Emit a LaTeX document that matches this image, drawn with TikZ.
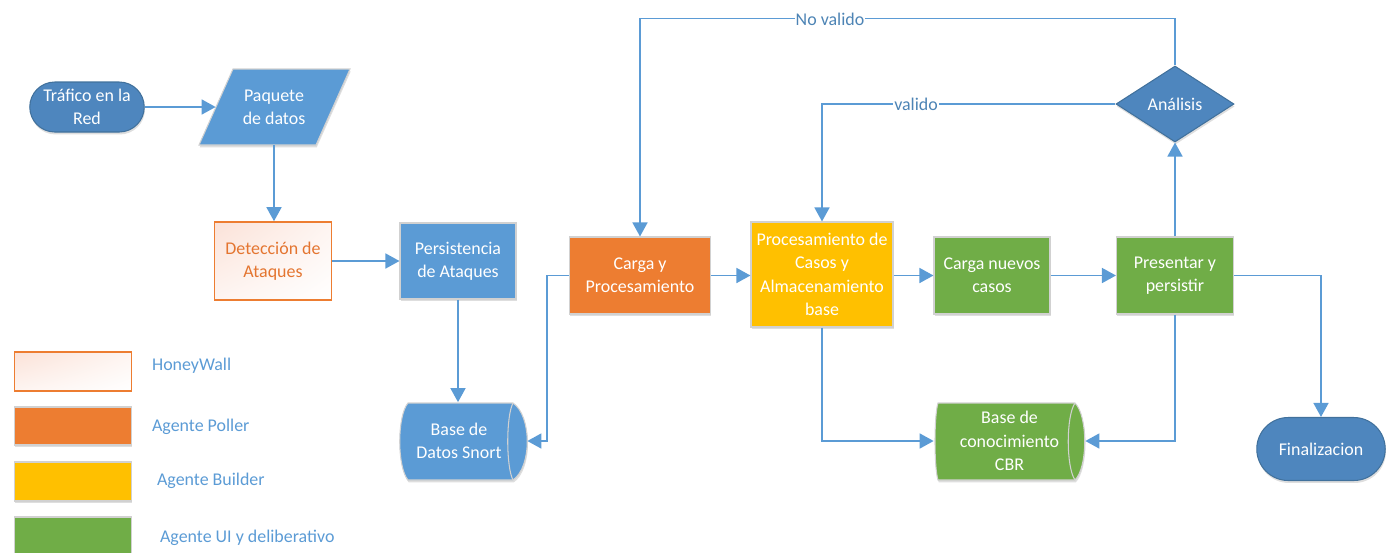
\documentclass[tikz,border=0pt]{standalone}
\usepackage{fontspec}
\setmainfont{Carlito}
\usetikzlibrary{shapes.geometric,shapes.misc,arrows.meta,calc,shadows,shadings}

\definecolor{lineblue}{HTML}{5B9BD5}
\definecolor{boxblue}{HTML}{5B9BD5}
\definecolor{termblue}{HTML}{4E86BE}
\definecolor{termedge}{HTML}{41719C}
\definecolor{poller}{HTML}{ED7D31}
\definecolor{builder}{HTML}{FFC000}
\definecolor{uigreen}{HTML}{70AD47}
\definecolor{hwtext}{HTML}{E47530}
\definecolor{hwtint}{HTML}{FBE2D8}

\begin{document}
\begin{tikzpicture}[x=0.02cm,y=-0.02cm,
  base/.style={font=\fontsize{10.2}{13.3}\selectfont, align=center, inner sep=1pt},
  soft/.style={drop shadow={shadow xshift=0.4pt, shadow yshift=-1.4pt, opacity=0.13, fill=black}},
  box/.style={base, rectangle, draw=black!18, line width=0.6pt, text=white, soft},
  bluebox/.style={box, fill=boxblue},
  pollerbox/.style={box, fill=poller},
  builderbox/.style={box, fill=builder},
  uibox/.style={box, fill=uigreen},
  hwbox/.style={base, rectangle, draw=poller, line width=0.9pt, text=hwtext,
    upper left=hwtint, upper right=hwtint!35, lower left=hwtint!35, lower right=white},
  term/.style={base, rounded rectangle, fill=termblue, draw=termedge, line width=0.6pt, text=white, soft},
  decide/.style={base, diamond, inner sep=0pt, fill=termblue, draw=termedge, line width=0.6pt, text=white, soft},
  holder/.style={base, rectangle, text=white},
  storeshape/.style={draw=black!18, line width=0.6pt, soft},
  arr/.style={draw=lineblue, line width=1.1pt, -{Triangle[length=8pt,width=8.5pt]}},
  edgelbl/.style={base, fill=white, inner sep=0.5pt, text=lineblue!85!black},
  legtxt/.style={base, anchor=west, text=lineblue}
]
\useasboundingbox (0,0) rectangle (1387,552);

% ---- input side ----
\node[term, minimum width=2.36cm, minimum height=1cm] (traf) at (87,107) {Tráfico en la\\Red};

\fill[boxblue, storeshape] (233,69) -- (350,69) -- (316,145) -- (199,145) -- cycle;
\node[holder, minimum width=2.32cm, minimum height=1.52cm] (paq) at (274,107) {Paquete\\de datos};

\node[hwbox, minimum width=2.34cm, minimum height=1.56cm] (det) at (273,261) {Detección de\\Ataques};
\node[bluebox, minimum width=2.32cm, minimum height=1.52cm] (pers) at (458,261) {Persistencia\\de Ataques};

% Snort storage drum (body 400..518, outer bulge reaching 527)
\fill[boxblue, storeshape] (408,403) -- (513,403) .. controls (532,416) and (532,467) .. (513,480)
  -- (408,480) .. controls (397,467) and (397,416) .. (408,403) -- cycle;
\draw[black!18, line width=0.6pt] (513,403) .. controls (506,416) and (506,467) .. (513,480);
\node[holder, minimum width=2.36cm, minimum height=1.54cm] (snort) at (459,441) {Base de\\Datos Snort};

% ---- agents ----
\node[pollerbox, minimum width=2.82cm, minimum height=1.54cm] (carga) at (640,275.5) {Carga y\\Procesamiento};
\node[builderbox, minimum width=2.84cm, minimum height=2.1cm] (proc) at (822,274.5) {Procesamiento de\\Casos y\\Almacenamiento\\base};
\node[uibox, minimum width=2.32cm, minimum height=1.54cm] (nuevos) at (992,275.5) {Carga nuevos\\casos};
\node[uibox, minimum width=2.34cm, minimum height=1.54cm] (pres) at (1175,275.5) {Presentar y\\persistir};
\node[decide, minimum width=2.36cm, minimum height=1.52cm] (anal) at (1175,104) {Análisis};

% CBR knowledge base drum
\fill[uigreen, storeshape] (938,403) -- (1075,403) .. controls (1088,416) and (1088,467) .. (1075,480)
  -- (938,480) .. controls (934,467) and (934,416) .. (938,403) -- cycle;
\draw[black!18, line width=0.6pt] (1075,403) .. controls (1066,416) and (1066,467) .. (1075,480);
\node[holder, minimum width=3.02cm, minimum height=1.54cm] (cbr) at (1009.5,441) {Base de\\conocimiento\\CBR};

\node[term, minimum width=2.64cm, minimum height=1.26cm] (fin) at (1321,449) {Finalizacion};

% ---- connectors ----
\draw[arr] (traf.east) -- (paq.west);
\draw[arr] (paq.south) -- (paq.south |- det.north);
\draw[arr] (det.east) -- (pers.west);
\draw[arr] (pers.south) -- (pers.south |- snort.north);
\draw[arr] (carga.west) -- ++(-22,0) |- ($(snort.east)+(9,0)$);
\draw[arr] (carga.east) -- (carga.east -| proc.west);
\draw[arr] (nuevos.west -| proc.east) -- (nuevos.west);
\draw[arr] (nuevos.east) -- (pres.west);
\draw[arr] (pres.north) -- (anal.south);
\draw[arr] (anal.north) -- ++(0,-47) -| (carga.north);
\draw[arr] (anal.west) -| (proc.north);
\draw[arr] (pres.east) -| (fin.north);
\draw[arr] (pres.south) |- (cbr.east);
\draw[arr] (proc.south) |- (cbr.west);

\node[edgelbl] (nv) at (830,19) {No valido};
\node[edgelbl] (val) at (916,104) {valido};

% ---- legend ----
\node[hwbox, minimum width=2.34cm, minimum height=0.78cm] (lg1) at (73,371.5) {};
\node[pollerbox, minimum width=2.34cm, minimum height=0.76cm] (lg2) at (73,426) {};
\node[builderbox, minimum width=2.34cm, minimum height=0.78cm] (lg3) at (73,481.5) {};
\node[uibox, minimum width=2.34cm, minimum height=0.78cm] (lg4) at (73,536.5) {};
\node[legtxt] (lt1) at (150,366) {HoneyWall};
\node[legtxt] (lt2) at (150,427) {Agente Poller};
\node[legtxt] (lt3) at (155,481) {Agente Builder};
\node[legtxt] (lt4) at (158,538) {Agente UI y deliberativo};
\end{tikzpicture}
\end{document}
